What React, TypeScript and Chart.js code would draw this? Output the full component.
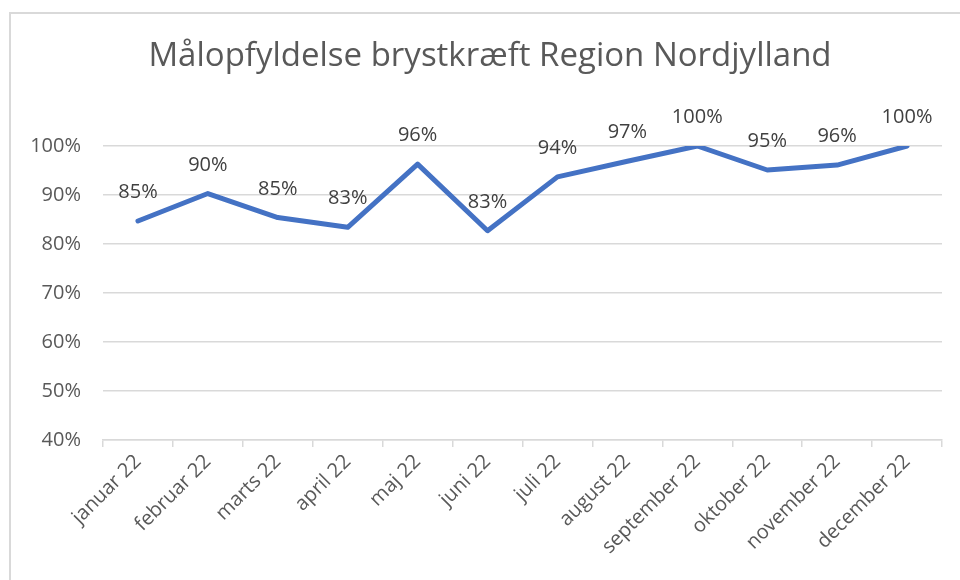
import React, { useEffect, useRef } from "react";
import { Chart, registerables } from "chart.js";

Chart.register(...registerables);

const TITLE = "Målopfyldelse brystkræft Region Nordjylland";
const MONTHS = [
  "januar 22", "februar 22", "marts 22", "april 22", "maj 22", "juni 22",
  "juli 22", "august 22", "september 22", "oktober 22", "november 22", "december 22",
];
const VALUES = [84.7, 90.3, 85.4, 83.4, 96.3, 82.7, 93.7, 96.9, 100, 95.1, 96.1, 100];
const Y_MIN = 40;
const Y_MAX = 100;
const Y_STEP = 10;

const FONT = "'Open Sans', 'Noto Sans', sans-serif";

const framePlugin = {
  id: "frame",
  beforeDraw(chart: any) {
    const ctx = chart.ctx;
    ctx.save();
    ctx.fillStyle = "#ffffff";
    ctx.fillRect(0, 0, chart.width, chart.height);
    ctx.strokeStyle = "#d9d9d9";
    ctx.lineWidth = 2;
    ctx.beginPath();
    ctx.moveTo(10, chart.height + 5);
    ctx.lineTo(10, 13);
    ctx.lineTo(chart.width + 5, 13);
    ctx.stroke();
    ctx.restore();
  },
};

const titlePlugin = {
  id: "customTitle",
  afterDraw(chart: any) {
    const ctx = chart.ctx;
    ctx.save();
    ctx.font = `33px ${FONT}`;
    ctx.fillStyle = "#595959";
    ctx.textAlign = "center";
    ctx.textBaseline = "middle";
    ctx.fillText(TITLE, 490, 57);
    ctx.restore();
  },
};

const dataLabelPlugin = {
  id: "dataLabels",
  afterDatasetsDraw(chart: any) {
    const ctx = chart.ctx;
    const meta = chart.getDatasetMeta(0);
    ctx.save();
    ctx.font = `20px ${FONT}`;
    ctx.fillStyle = "#404040";
    ctx.textAlign = "center";
    ctx.textBaseline = "alphabetic";
    meta.data.forEach((pt: any, i: number) => {
      const v = chart.data.datasets[0].data[i] as number;
      ctx.fillText(Math.round(v) + "%", pt.x, pt.y - 23);
    });
    ctx.restore();
  },
};

export default function App() {
  const ref = useRef<HTMLCanvasElement | null>(null);
  useEffect(() => {
    if (!ref.current) return;
    const chart = new Chart(ref.current, {
      type: "line",
      data: {
        labels: MONTHS,
        datasets: [
          {
            data: VALUES,
            borderColor: "#4472C4",
            borderWidth: 5,
            borderCapStyle: "round",
            borderJoinStyle: "round",
            pointRadius: 0,
            tension: 0,
            fill: false,
          },
        ],
      },
      options: {
        animation: false,
        responsive: false,
        layout: { padding: { top: 146, left: 0, right: 18, bottom: 0 } },
        plugins: {
          legend: { display: false },
          title: { display: false },
          tooltip: { enabled: false },
        },
        scales: {
          x: {
            offset: true,
            grid: {
              offset: true,
              drawOnChartArea: false,
              drawTicks: true,
              tickLength: 7,
              color: "#d9d9d9",
              lineWidth: 1.5,
            },
            border: { display: true, color: "#d9d9d9", width: 1.5 },
            ticks: {
              maxRotation: 45,
              minRotation: 45,
              autoSkip: false,
              padding: 3,
              color: "#595959",
              font: { family: FONT, size: 20 },
            },
            afterFit(scale: any) {
              scale.height = 140;
            },
          },
          y: {
            min: Y_MIN,
            max: Y_MAX,
            grid: { color: "#d9d9d9", lineWidth: 1.5, drawTicks: false },
            border: { display: false },
            ticks: {
              stepSize: Y_STEP,
              padding: 22,
              color: "#595959",
              font: { family: FONT, size: 20 },
              callback: (v: any) => v + "%",
            },
            afterFit(scale: any) {
              scale.width = 103;
            },
          },
        },
      },
      plugins: [framePlugin, titlePlugin, dataLabelPlugin],
    });
    return () => chart.destroy();
  }, []);
  return (
    <div style={{ position: "fixed", left: 0, top: 0, width: 960, height: 580, background: "#fff" }}>
      <canvas ref={ref} width={960} height={580} style={{ display: "block" }} />
    </div>
  );
}
